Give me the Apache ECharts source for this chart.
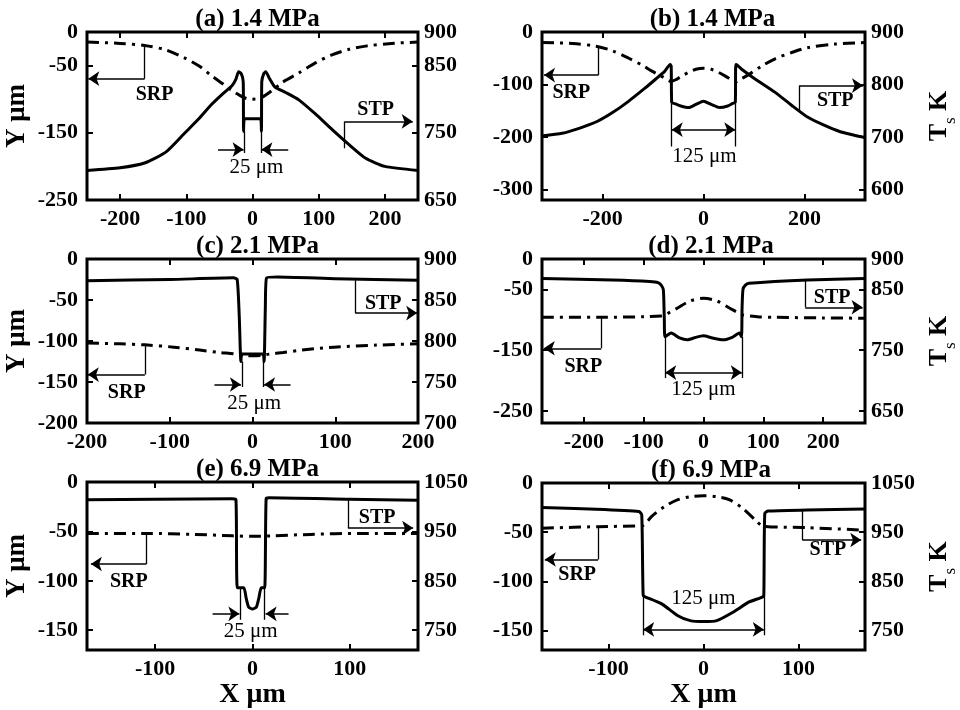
<!DOCTYPE html>
<html>
<head>
<meta charset="utf-8">
<script src="https://cdn.jsdelivr.net/npm/echarts@6/dist/echarts.min.js"></script>
<style>
html, body { margin: 0; padding: 0; background: #fff; }
#chart { width: 960px; height: 710px; }
</style>
</head>
<body>
<div id="chart"></div>
<script>
// SRP = dash-dot (left axis, Y um), STP = solid (right axis, T K)
const srpA = [[-250,-15],[-200,-17],[-163,-20],[-130,-27],[-102,-39],[-80,-51],[-62,-65],[-45,-77],[-31,-87],[-18,-95],[-9,-99],[0,-100],[9,-99],[18,-95],[31,-86],[45,-75],[70,-61],[95,-46],[120,-34],[145,-26],[171,-21],[210,-17],[250,-15]];
const stpA = [[-250,694],[-200,698],[-163,705],[-130,722],[-102,750],[-80,772],[-62,792],[-45,808],[-31,820],[-25,830],[-21,841],[-17,838],[-14,826],[-13.5,752],[-12,771],[12,771],[13.5,752],[14,826],[17,838],[20,841],[25,832],[34,818],[50,810],[70,799],[95,778],[120,755],[145,733],[171,712],[200,700],[250,694]];

const srpB = [[-320,-20],[-260,-22],[-213,-27],[-180,-36],[-148,-50],[-120,-64],[-103,-74],[-80,-86],[-64,-94],[-55,-91],[-45,-85],[-30,-77],[-15,-71],[0,-69],[15,-71],[30,-77],[45,-85],[55,-91],[64,-95],[75,-89],[90,-81],[115,-65],[142,-51],[175,-39],[206,-30],[260,-23],[320,-20]];
const stpB = [[-320,702],[-280,707],[-245,717],[-210,730],[-181,746],[-150,767],[-116,793],[-95,810],[-77,825],[-66,838],[-64,835],[-63,766],[-55,763],[-45,759],[-29,756],[-15,762],[0,768],[15,762],[32,756],[48,759],[58,764],[63,766],[64,838],[68,836],[77,828],[100,812],[142,785],[175,760],[206,738],[240,722],[271,710],[300,703],[320,699]];

const srpC = [[-200,-102.5],[-160,-103.5],[-130,-104.7],[-95,-107.5],[-64,-111],[-40,-114],[-23,-115.6],[-10,-117.5],[0,-118],[10,-117.5],[20,-116],[37,-114],[60,-111],[98,-107.5],[150,-105],[200,-103.5]];
const stpC = [[-200,873.5],[-100,875],[-23,877],[-18.5,875],[-16,830],[-14,775],[-12.5,784],[12.5,784],[14,775],[15.5,840],[17,877],[30,878],[100,876],[200,874]];

const srpD = [[-270,-96],[-171,-96],[-100,-95],[-71,-93.7],[-65,-92],[-55,-87],[-44,-81],[-22,-69],[0,-64.7],[22,-69],[44,-81],[55,-87],[65,-92],[90,-95],[120,-96],[200,-97],[270,-97.5]];
const stpD = [[-270,868],[-152,865.5],[-90,863],[-76,861],[-70,856],[-67,848],[-65.5,800],[-64.5,772],[-54,778],[-40,770],[-27,767],[-13,771],[0,773.5],[15,770],[33,767],[48,771],[60,778],[63.5,772],[64.5,820],[66,850],[70,857],[76,860],[174,865.5],[270,868]];

const srpE = [[-170,-52],[-109,-52],[-60,-53],[-20,-54.5],[0,-55],[20,-54.5],[60,-53],[109,-52],[170,-52]];
const stpE = [[-170,1014],[-100,1015],[-21,1016],[-17,1014],[-15.5,836],[-9,836],[-6.5,815],[-4,797],[0,793],[4,797],[6.5,815],[9,836],[12.5,836],[14,1016],[17,1018],[100,1015],[170,1013]];

const srpF = [[-170,-46],[-111,-44.4],[-68,-43.7],[-63,-43],[-54.5,-34],[-41,-24],[-27,-17],[-14,-14],[0,-13],[14,-14],[27,-17],[41,-25.6],[54.5,-37.5],[63,-44],[109,-45.4],[170,-48]];
const stpF = [[-170,1000],[-120,997],[-68,992],[-65,985],[-63.5,821],[-61,818],[-44,804],[-27,780],[-14,770],[0,768],[14,770],[31,787],[48,808],[62,818],[63.5,822],[64.5,988],[68,993],[109,995],[170,997]];

// tick labels
const xLabA = [-200,-100,0,100,200], yLabA = [0,-50,-150,-250], tLabA = [900,850,750,650];
const xLabB = [-200,0,200], yLabB = [0,-100,-200,-300], tLabB = [900,800,700,600];
const xLabC = [-200,-100,0,100,200], yLabC = [0,-50,-100,-150,-200], tLabC = [900,850,800,750,700];
const xLabD = [-200,-100,0,100,200], yLabD = [0,-50,-150,-250], tLabD = [900,850,750,650];
const xLabE = [-100,0,100], yLabE = [0,-50,-100,-150], tLabE = [1050,950,850,750];
const xLabF = [-100,0,100], yLabF = [0,-50,-100,-150], tLabF = [1050,950,850,750];

// annotations, in left-axis units
const plainA = [[[-163,-20],[-163,-69.5]],[[139,-173],[139,-133]],[[-12.5,-148],[-12.5,-180]],[[12.5,-148],[12.5,-180]]];
const arrowA = [[[-163,-69.5],[-248,-69.5]],[[139,-133],[242,-133]],[[-52,-175],[-13.5,-175]],[[54,-175],[13.5,-175]]];
const textA = [[-148,-93,'SRP'],[186,-116,'STP'],[6,-202,'25 μm']];

const plainB = [[[-208,-27],[-208,-82]],[[190,-152],[190,-102]],[[-63,-137],[-63,-218]],[[63,-137],[63,-218]]];
const arrowB = [[[-208,-82],[-316,-82]],[[190,-102],[316,-102]]];
const bothB = [[[-63,-186],[63,-186]]];
const textB = [[-262,-116,'SRP'],[261,-132,'STP'],[2,-237,'125 μm']];

const plainC = [[[-130,-104.7],[-130,-141]],[[124,-26],[124,-66]],[[-12.5,-125],[-12.5,-156]],[[12.5,-125],[12.5,-156]]];
const arrowC = [[[-130,-141],[-199,-141]],[[124,-66],[199,-66]],[[-46,-153],[-14,-153]],[[46,-153],[14,-153]]];
const textC = [[-152,-163.5,'SRP'],[158,-55,'STP'],[2,-176,'25 μm']];

const plainD = [[[-171,-96],[-171,-147]],[[170,-34.5],[170,-79.5]],[[-64,-128],[-64,-196]],[[64,-128],[64,-196]]];
const arrowD = [[[-171,-147],[-267,-147]],[[170,-79.5],[266,-79.5]]];
const bothD = [[[-64,-187],[64,-187]]];
const textD = [[-201,-177,'SRP'],[215,-64.7,'STP'],[0,-215,'125 μm']];

const plainE = [[[-109,-52],[-109,-83]],[[98,-18],[98,-46.6]],[[-12.5,-107],[-12.5,-139.5]],[[12.5,-107],[12.5,-139.5]]];
const arrowE = [[[-109,-83],[-166,-83]],[[98,-46.6],[165,-46.6]],[[-41,-133.4],[-13.5,-133.4]],[[37,-133.4],[13.5,-133.4]]];
const textE = [[-127,-100.7,'SRP'],[128,-36.5,'STP'],[-2,-151.4,'25 μm']];

const plainF = [[[-111,-44.4],[-111,-77.8]],[[104,-27.3],[104,-58]],[[-63.5,-114],[-63.5,-155]],[[63.5,-114],[63.5,-155]]];
const arrowF = [[[-111,-77.8],[-167,-77.8]],[[104,-58],[166,-58]]];
const bothF = [[[-63.5,-149],[63.5,-149]]];
const textF = [[-133,-93.9,'SRP'],[131,-67.6,'STP'],[0,-117.7,'125 μm']];

const FONT = 'Liberation Serif';

const panels = [
    {title:'(a) 1.4 MPa', box:[87,32,331,168], x:[-250,250], y:[-250,0], t:[650,900], xl:xLabA, yl:yLabA, tl:tLabA, srp:srpA, stp:stpA, plain:plainA, arrow:arrowA, both:[], text:textA, side:'left'},
    {title:'(b) 1.4 MPa', box:[542,32,331,168], x:[-320,320], y:[-320,0], t:[580,900], xl:xLabB, yl:yLabB, tl:tLabB, srp:srpB, stp:stpB, plain:plainB, arrow:arrowB, both:bothB, text:textB, side:'right'},
    {title:'(c) 2.1 MPa', box:[87,259,331,164], x:[-200,200], y:[-200,0], t:[700,900], xl:xLabC, yl:yLabC, tl:tLabC, srp:srpC, stp:stpC, plain:plainC, arrow:arrowC, both:[], text:textC, side:'left'},
    {title:'(d) 2.1 MPa', box:[542,259,328,164], x:[-270,270], y:[-270,0], t:[630,900], xl:xLabD, yl:yLabD, tl:tLabD, srp:srpD, stp:stpD, plain:plainD, arrow:arrowD, both:bothD, text:textD, side:'right'},
    {title:'(e) 6.9 MPa', box:[87,482,331,168], x:[-170,170], y:[-170,0], t:[710,1050], xl:xLabE, yl:yLabE, tl:tLabE, srp:srpE, stp:stpE, plain:plainE, arrow:arrowE, both:[], text:textE, side:'left', xName:true},
    {title:'(f) 6.9 MPa', box:[542,483,328,168], x:[-170,170], y:[-170,0], t:[710,1050], xl:xLabF, yl:yLabF, tl:tLabF, srp:srpF, stp:stpF, plain:plainF, arrow:arrowF, both:bothF, text:textF, side:'right', xName:true}
];

const labelStyle = {fontFamily: FONT, fontWeight: 'bold', fontSize: 22, color: '#000'};
const tickStyle = {inside: true, length: 6, lineStyle: {color: '#000', width: 2}};
const noLine = {show: false, onZero: false};
const fmt = (v) => String(v);

const grids = [], xAxes = [], yAxes = [], series = [], titles = [];

panels.forEach((p, i) => {
    const [left, top, w, h] = p.box;
    grids.push({left: left, top: top, width: w, height: h, show: true, borderColor: '#000', borderWidth: 3, backgroundColor: 'transparent'});
    titles.push({
        text: p.title, left: left + w / 2, top: top - 30, textAlign: 'center',
        textStyle: {fontFamily: FONT, fontWeight: 'bold', fontSize: 25, color: '#000'}
    });
    const xBottom = {
        gridIndex: i, type: 'value', min: p.x[0], max: p.x[1], position: 'bottom',
        axisLine: noLine, splitLine: {show: false},
        axisTick: Object.assign({customValues: p.xl}, tickStyle),
        axisLabel: Object.assign({customValues: p.xl, formatter: fmt, margin: 8}, labelStyle)
    };
    if (p.xName) {
        xBottom.name = 'X μm';
        xBottom.nameLocation = 'middle';
        xBottom.nameGap = 30;
        xBottom.nameTextStyle = {fontFamily: FONT, fontWeight: 'bold', fontSize: 28, color: '#000'};
    }
    xAxes.push(xBottom);
    xAxes.push({
        gridIndex: i, type: 'value', min: p.x[0], max: p.x[1], position: 'top',
        axisLine: noLine, splitLine: {show: false},
        axisTick: Object.assign({customValues: p.xl}, tickStyle),
        axisLabel: {show: false}
    });
    const yLeft = {
        gridIndex: i, type: 'value', min: p.y[0], max: p.y[1], position: 'left',
        axisLine: noLine, splitLine: {show: false},
        axisTick: Object.assign({customValues: p.yl}, tickStyle),
        axisLabel: Object.assign({customValues: p.yl, formatter: fmt, margin: 9}, labelStyle)
    };
    const yRight = {
        gridIndex: i, type: 'value', min: p.t[0], max: p.t[1], position: 'right',
        axisLine: noLine, splitLine: {show: false},
        axisTick: Object.assign({customValues: p.tl}, tickStyle),
        axisLabel: Object.assign({customValues: p.tl, formatter: fmt, margin: 6}, labelStyle)
    };
    if (p.side === 'left') {
        yLeft.name = 'Y μm';
        yLeft.nameLocation = 'middle';
        yLeft.nameRotate = 90;
        yLeft.nameGap = 56;
        yLeft.nameTextStyle = {fontFamily: FONT, fontWeight: 'bold', fontSize: 27, color: '#000'};
    } else {
        yRight.name = '{t|T}{s|s}{k| K}';
        yRight.nameLocation = 'middle';
        yRight.nameRotate = 90;
        yRight.nameGap = 54;
        yRight.nameTextStyle = {
            rich: {
                t: {fontFamily: FONT, fontWeight: 'bold', fontSize: 26, color: '#000', lineHeight: 40},
                k: {fontFamily: FONT, fontWeight: 'bold', fontSize: 26, color: '#000', lineHeight: 40},
                s: {fontFamily: FONT, fontSize: 17, color: '#000', lineHeight: 17, verticalAlign: 'bottom'}
            }
        };
    }
    yAxes.push(yLeft, yRight);

    const xi = 2 * i, yl = 2 * i, yr = 2 * i + 1;
    series.push({
        type: 'line', xAxisIndex: xi, yAxisIndex: yl, data: p.srp, showSymbol: false, smooth: 0.3,
        lineStyle: {color: '#000', width: 3, type: [12, 6, 3, 6], cap: 'butt'}
    });
    series.push({
        type: 'line', xAxisIndex: xi, yAxisIndex: yr, data: p.stp, showSymbol: false,
        smooth: 0.2,
        lineStyle: {color: '#000', width: 3, join: 'round'}
    });
    series.push({
        type: 'lines', coordinateSystem: 'cartesian2d', xAxisIndex: xi, yAxisIndex: yl,
        data: p.plain.map(c => ({coords: c})), symbol: 'none',
        lineStyle: {color: '#000', width: 1.3, opacity: 1, curveness: 0}
    });
    series.push({
        type: 'lines', coordinateSystem: 'cartesian2d', xAxisIndex: xi, yAxisIndex: yl,
        data: p.arrow.map(c => ({coords: c})), symbol: ['none', 'arrow'], symbolSize: 11,
        lineStyle: {color: '#000', width: 1.6, opacity: 1, curveness: 0}
    });
    if (p.both.length) {
        series.push({
            type: 'lines', coordinateSystem: 'cartesian2d', xAxisIndex: xi, yAxisIndex: yl,
            data: p.both.map(c => ({coords: c})), symbol: ['arrow', 'arrow'], symbolSize: 11,
            lineStyle: {color: '#000', width: 1.6, opacity: 1, curveness: 0}
        });
    }
    series.push({
        type: 'scatter', xAxisIndex: xi, yAxisIndex: yl, symbolSize: 1,
        itemStyle: {color: 'rgba(0,0,0,0)', opacity: 1},
        label: {
            show: true, position: 'inside', color: '#000', opacity: 1, fontFamily: FONT,
            formatter: (d) => d.value[2]
        },
        data: p.text.map(d => {
            const isDim = d[2].indexOf('μm') >= 0;
            return {
                value: d,
                label: {color: '#000', fontWeight: isDim ? 'normal' : 'bold', fontSize: isDim ? 21 : 20}
            };
        })
    });
});

const chart = echarts.init(document.getElementById('chart'), null, {renderer: 'canvas'});
chart.setOption({
    animation: false,
    backgroundColor: '#fff',
    title: titles,
    grid: grids,
    xAxis: xAxes,
    yAxis: yAxes,
    series: series
});
window.addEventListener('resize', () => {
    chart.resize();
});
</script>
</body>
</html>
